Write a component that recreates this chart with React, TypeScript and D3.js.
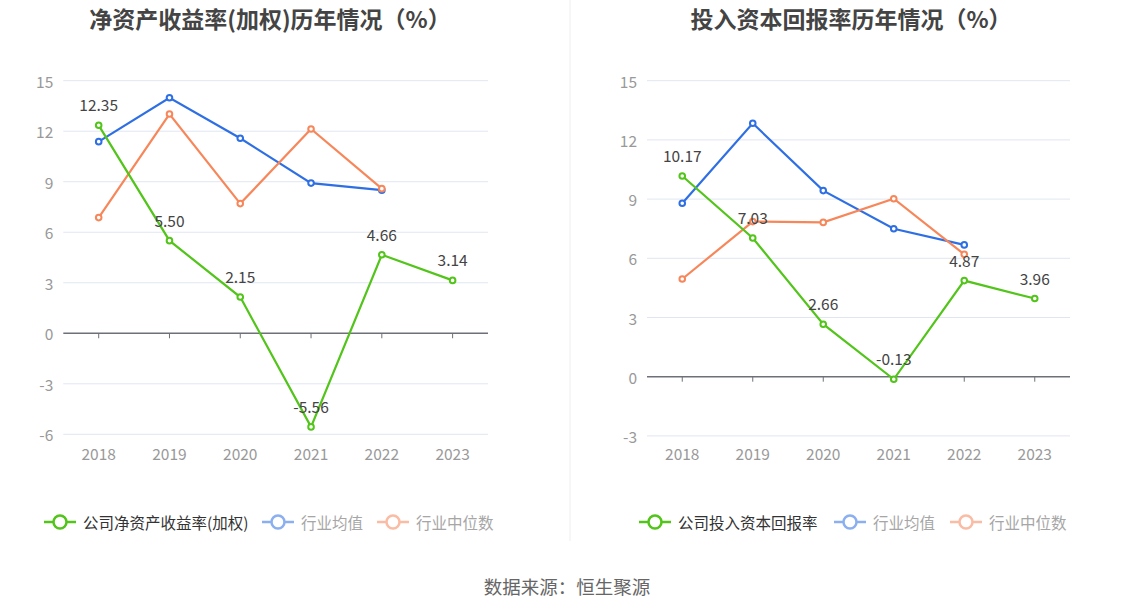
import React from "react";
import * as d3 from "d3";

const years = ["2018", "2019", "2020", "2021", "2022", "2023"];

const roeCompany = [12.35, 5.5, 2.15, -5.56, 4.66, 3.14];
const roeIndustryAvg = [11.38, 13.99, 11.58, 8.92, 8.5];
const roeIndustryMedian = [6.87, 13.02, 7.7, 12.13, 8.59];
const roeTicks = [-6, -3, 0, 3, 6, 9, 12, 15];

const roicCompany = [10.17, 7.03, 2.66, -0.13, 4.87, 3.96];
const roicIndustryAvg = [8.79, 12.84, 9.43, 7.5, 6.68];
const roicIndustryMedian = [4.95, 7.86, 7.82, 9.02, 6.2];
const roicTicks = [-3, 0, 3, 6, 9, 12, 15];

const GREEN = "#52c41a";
const BLUE = "#2f6fe4";
const ORANGE = "#f7875a";
const FONT = "'Noto Sans CJK SC', 'Noto Sans', sans-serif";

type PanelProps = {
  title: string;
  titleX: number;
  x0: number;
  x1: number;
  yTop: number;
  yBottom: number;
  ticks: number[];
  company: number[];
  avg: number[];
  median: number[];
  legendName: string;
  legendX: number[];
};

function Panel(p: PanelProps) {
  const x = d3.scaleBand<string>().domain(years).range([p.x0, p.x1]);
  const yMin = d3.min(p.ticks)!;
  const yMax = d3.max(p.ticks)!;
  const y = d3.scaleLinear().domain([yMin, yMax]).range([p.yBottom, p.yTop]);
  const cx = (i: number) => (x(years[i]) as number) + x.bandwidth() / 2;
  const line = d3
    .line<number>()
    .x((_, i) => cx(i))
    .y((d) => y(d));

  const series = [
    { data: p.avg, color: BLUE },
    { data: p.median, color: ORANGE },
    { data: p.company, color: GREEN },
  ];

  const legendItems = [
    { name: p.legendName, color: GREEN, active: true },
    { name: "行业均值", color: BLUE, active: false },
    { name: "行业中位数", color: ORANGE, active: false },
  ];

  return (
    <g>
      <text
        x={p.titleX}
        y={18}
        textAnchor="middle"
        dominantBaseline="central"
        fontSize={23}
        fontWeight="bold"
        fill="#444"
        fontFamily={FONT}
      >
        {p.title}
      </text>
      {p.ticks.map((t) => (
        <g key={t}>
          {t !== 0 && (
            <line x1={p.x0} x2={p.x1} y1={y(t)} y2={y(t)} stroke="#e0e6f1" strokeWidth={1} />
          )}
          <text
            x={p.x0 - 10}
            y={y(t)}
            textAnchor="end"
            dominantBaseline="central"
            fontSize={15.5}
            fill="#999"
            fontFamily={FONT}
          >
            {t}
          </text>
        </g>
      ))}
      <line x1={p.x0} x2={p.x1} y1={y(0)} y2={y(0)} stroke="#6e7079" strokeWidth={1.5} />
      {years.map((yr, i) => (
        <g key={yr}>
          <line x1={cx(i)} x2={cx(i)} y1={y(0)} y2={y(0) + 5} stroke="#6e7079" strokeWidth={1} />
          <text
            x={cx(i)}
            y={453}
            textAnchor="middle"
            dominantBaseline="central"
            fontSize={15.5}
            fill="#999"
            fontFamily={FONT}
          >
            {yr}
          </text>
        </g>
      ))}
      {series.map((s, k) => (
        <g key={k}>
          <path d={line(s.data) || ""} fill="none" stroke={s.color} strokeWidth={2.2} />
          {s.data.map((v, i) => (
            <circle key={i} cx={cx(i)} cy={y(v)} r={2.8} fill="#fff" stroke={s.color} strokeWidth={2} />
          ))}
        </g>
      ))}
      {p.company.map((v, i) => (
        <text
          key={i}
          x={cx(i)}
          y={y(v) - 21}
          textAnchor="middle"
          dominantBaseline="central"
          fontSize={15.5}
          fill="#444"
          fontFamily={FONT}
        >
          {v.toFixed(2)}
        </text>
      ))}
      {legendItems.map((it, i) => (
        <g key={it.name}>
          <g opacity={it.active ? 1 : 0.55}>
            <line
              x1={p.legendX[i] - 16}
              x2={p.legendX[i] + 16}
              y1={522}
              y2={522}
              stroke={it.color}
              strokeWidth={2.5}
            />
            <circle cx={p.legendX[i]} cy={522} r={6.5} fill="#fff" stroke={it.color} strokeWidth={2.5} />
          </g>
          <text
            x={p.legendX[i] + 23}
            y={522}
            dominantBaseline="central"
            fontSize={15.5}
            fill={it.active ? "#333" : "#a6a6a6"}
            fontFamily={FONT}
          >
            {it.name}
          </text>
        </g>
      ))}
    </g>
  );
}

export default function App() {
  return (
    <svg
      width={1134}
      height={612}
      style={{ position: "absolute", left: 0, top: 0, background: "#fff" }}
    >
      <rect x={0} y={0} width={1134} height={612} fill="#fff" />
      <line x1={570} x2={570} y1={0} y2={541} stroke="#eeeeee" strokeWidth={1} />
      <Panel
        title="净资产收益率(加权)历年情况（%）"
        titleX={270}
        x0={63.3}
        x1={488}
        yTop={80.7}
        yBottom={434.3}
        ticks={roeTicks}
        company={roeCompany}
        avg={roeIndustryAvg}
        median={roeIndustryMedian}
        legendName="公司净资产收益率(加权)"
        legendX={[60, 278, 393]}
      />
      <Panel
        title="投入资本回报率历年情况（%）"
        titleX={851}
        x0={647}
        x1={1070}
        yTop={80.7}
        yBottom={435.9}
        ticks={roicTicks}
        company={roicCompany}
        avg={roicIndustryAvg}
        median={roicIndustryMedian}
        legendName="公司投入资本回报率"
        legendX={[655, 850, 966]}
      />
      <text
        x={567}
        y={586}
        textAnchor="middle"
        dominantBaseline="central"
        fontSize={18.5}
        fill="#666"
        fontFamily={FONT}
      >
        数据来源：恒生聚源
      </text>
    </svg>
  );
}
